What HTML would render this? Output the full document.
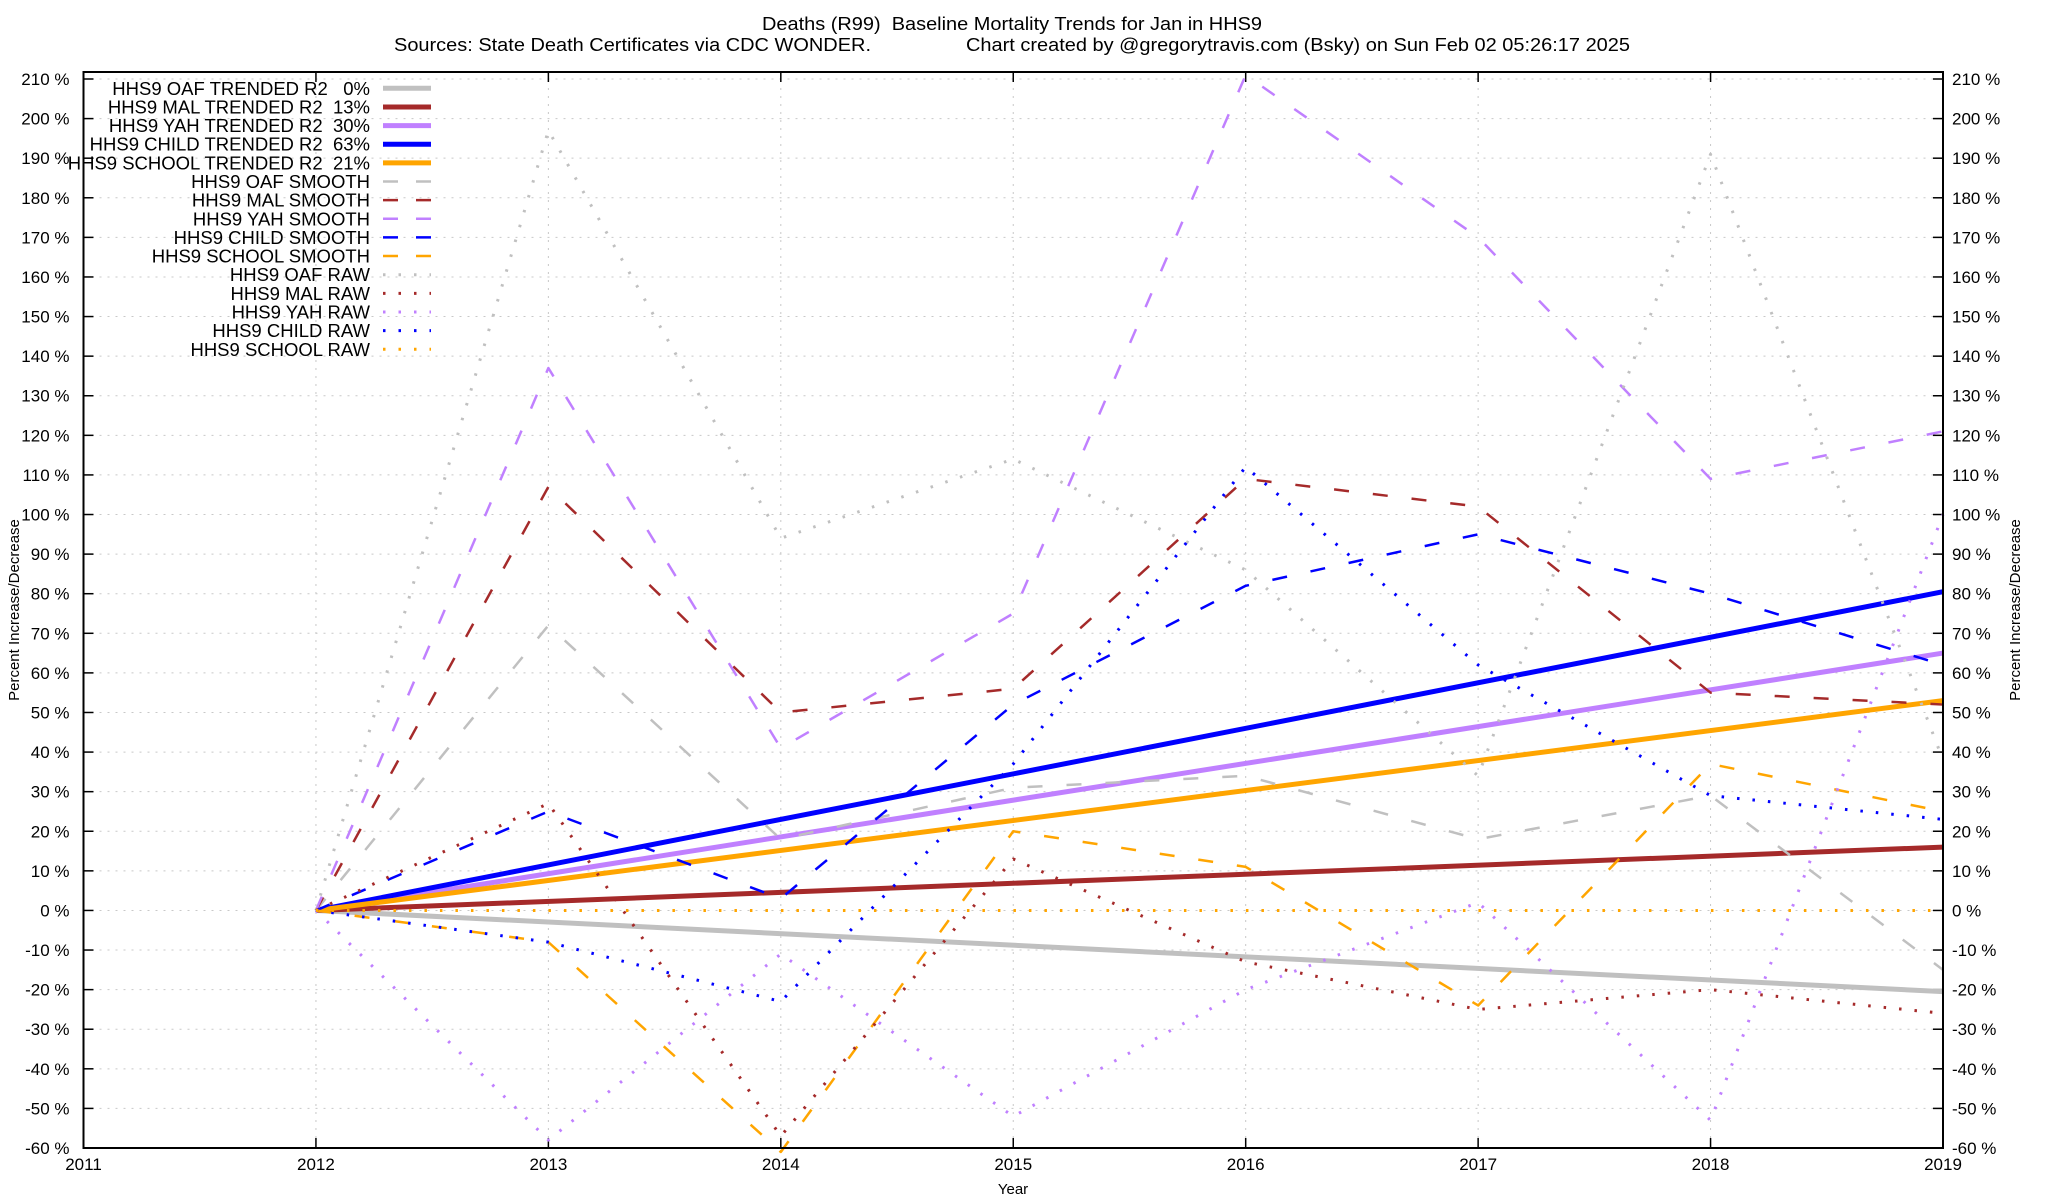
<!DOCTYPE html>
<html><head><meta charset="utf-8"><style>
html,body{margin:0;padding:0;background:#fff;}
svg{display:block;font-family:"Liberation Sans",Arial,sans-serif;}
</style></head><body>
<svg id="chart" width="2048" height="1200" viewBox="0 0 2048 1200"></svg>
<script>
const years = [2012,2013,2014,2015,2016,2017,2018,2019];
const oafTrend = [0,-20.5];
const malTrend = [0,16];
const yahTrend = [0,65];
const childTrend = [0,80.5];
const schoolTrend = [0,53];
const oafSmooth = [0,72,18,31,34,18,29,-15];
const malSmooth = [0,107,50,56,109,102,55,52];
const yahSmooth = [0,137,41,75,211,170,109,121];
const childSmooth = [0,25,3,52,82,95,80,62];
const schoolSmooth = [0,-8,-61,20,11,-24,37,25];
const oafRaw = [0,197,94,114,86,34,191,38];
const malRaw = [0,27,-57,13,-13,-25,-20,-26];
const yahRaw = [0,-58,-11,-52,-20,2,-53,100];
const childRaw = [0,-8,-23,37,112,62,29,23];
const schoolRaw = [0,0,0,0,0,0,0,0];
const yTicks = [210,200,190,180,170,160,150,140,130,120,110,100,90,80,70,60,50,40,30,20,10,0,-10,-20,-30,-40,-50,-60];
const xTicks = [2011,2012,2013,2014,2015,2016,2017,2018,2019];

const NS="http://www.w3.org/2000/svg";
const svg=document.getElementById('chart');
const L=83.5,R=1943,T=72,B=1148;
function xs(yr){return L+(yr-2011)*(R-L)/8;}
function ys(v){return 79+(210-v)*(1148-79)/270;}
function mk(tag,attrs,parent){const e=document.createElementNS(NS,tag);for(const k in attrs)e.setAttribute(k,attrs[k]);(parent||svg).appendChild(e);return e;}

const grid=mk('g',{});


yTicks.forEach(v=>{
  const y=ys(v);
  mk('line',{x1:L,x2:R,y1:y,y2:y,stroke:'#c8c8c8','stroke-width':1,'stroke-dasharray':'2,6'},grid);
  mk('line',{x1:L,x2:L+10,y1:y,y2:y,stroke:'#000','stroke-width':1.5},grid);
  mk('line',{x1:R-10,x2:R,y1:y,y2:y,stroke:'#000','stroke-width':1.5},grid);
  const t1=mk('text',{x:L-14,y:y+6,'text-anchor':'end','font-size':17},svg);
  t1.textContent=v+' %';
  
  
  const t2=mk('text',{x:R+9,y:y+6,'text-anchor':'start','font-size':17},svg);
  t2.textContent=v+' %';
  
  
});
xTicks.forEach(yr=>{
  const x=xs(yr);
  if(yr>2011&&yr<2019) mk('line',{x1:x,x2:x,y1:T,y2:B,stroke:'#c8c8c8','stroke-width':1,'stroke-dasharray':'2,6'},grid);
  mk('line',{x1:x,x2:x,y1:B,y2:B-10,stroke:'#000','stroke-width':1.5},grid);
  mk('line',{x1:x,x2:x,y1:T,y2:T+10,stroke:'#000','stroke-width':1.5},grid);
  const t=mk('text',{x:x,y:B+22,'text-anchor':'middle','font-size':17},svg);
  t.textContent=yr;
  
  
});

const gray='#c0c0c0',mal='#a52a2a',yah='#c080ff',child='#0000ff',school='#ffa500';
const series=[
 {n:'oaf-trend',c:gray,d:oafTrend,k:'t'},
 {n:'mal-trend',c:mal,d:malTrend,k:'t'},
 {n:'yah-trend',c:yah,d:yahTrend,k:'t'},
 {n:'child-trend',c:child,d:childTrend,k:'t'},
 {n:'school-trend',c:school,d:schoolTrend,k:'t'},
 {n:'oaf-smooth',c:gray,d:oafSmooth,k:'s'},
 {n:'mal-smooth',c:mal,d:malSmooth,k:'s'},
 {n:'yah-smooth',c:yah,d:yahSmooth,k:'s'},
 {n:'child-smooth',c:child,d:childSmooth,k:'s'},
 {n:'school-smooth',c:school,d:schoolSmooth,k:'s'},
 {n:'oaf-raw',c:gray,d:oafRaw,k:'r'},
 {n:'mal-raw',c:mal,d:malRaw,k:'r'},
 {n:'yah-raw',c:yah,d:yahRaw,k:'r'},
 {n:'child-raw',c:child,d:childRaw,k:'r'},
 {n:'school-raw',c:school,d:schoolRaw,k:'r'}
];
function style(k){
  if(k==='t') return {'stroke-width':5,'stroke-dasharray':''};
  if(k==='s') return {'stroke-width':2.5,'stroke-dasharray':'15,24'};
  return {'stroke-width':3,'stroke-dasharray':'2.5,13','stroke-linecap':'butt'};
}
series.forEach(s=>{
  let pts;
  if(s.k==='t') pts=[[xs(2012),ys(s.d[0])],[xs(2019),ys(s.d[1])]];
  else pts=s.d.map((v,i)=>[xs(years[i]),ys(v)]);
  const st=style(s.k);
  const p=mk('polyline',Object.assign({points:pts.map(p=>p.join(',')).join(' '),fill:'none',stroke:s.c,'stroke-linejoin':'round'},st));
  
  
});

const border=mk('rect',{x:L,y:T,width:R-L,height:B-T,fill:'none',stroke:'#000','stroke-width':2});



const labels=['HHS9 OAF TRENDED R2   0%','HHS9 MAL TRENDED R2  13%','HHS9 YAH TRENDED R2  30%','HHS9 CHILD TRENDED R2  63%','HHS9 SCHOOL TRENDED R2  21%','HHS9 OAF SMOOTH','HHS9 MAL SMOOTH','HHS9 YAH SMOOTH','HHS9 CHILD SMOOTH','HHS9 SCHOOL SMOOTH','HHS9 OAF RAW','HHS9 MAL RAW','HHS9 YAH RAW','HHS9 CHILD RAW','HHS9 SCHOOL RAW'];
const leg=mk('g',{});


labels.forEach((lab,i)=>{
  const y=88.3+i*18.64;
  const t=mk('text',{x:370,y:y+6.5,'text-anchor':'end','font-size':18.5},leg);
  t.style.whiteSpace='pre';
  t.textContent=lab;
  
  
  const s=series[i];const st=style(s.k);
  const l=mk('line',Object.assign({x1:383,x2:431,y1:y,y2:y,stroke:s.c},st),leg);
  if(s.k==='s') l.setAttribute('stroke-dasharray','15,18');
  if(s.k==='r') l.setAttribute('stroke-dasharray','2.5,13');
  
  
});

const t1=mk('text',{x:1012,y:30,'text-anchor':'middle','font-size':18,textLength:500,lengthAdjust:'spacingAndGlyphs'});
t1.style.whiteSpace='pre';
t1.textContent='Deaths (R99)  Baseline Mortality Trends for Jan in HHS9';


const t2=mk('text',{x:394,y:51,'text-anchor':'start','font-size':18});


const a=mk('tspan',{x:394},t2);a.textContent='Sources: State Death Certificates via CDC WONDER.';
a.setAttribute('textLength',477);a.setAttribute('lengthAdjust','spacingAndGlyphs');
const b=mk('tspan',{x:966},t2);b.textContent='Chart created by @gregorytravis.com (Bsky) on Sun Feb 02 05:26:17 2025';
b.setAttribute('textLength',664);b.setAttribute('lengthAdjust','spacingAndGlyphs');

const yl=mk('text',{x:0,y:0,'text-anchor':'middle','font-size':15,transform:'translate(19,610) rotate(-90)'});
yl.textContent='Percent Increase/Decrease';


const yr=mk('text',{x:0,y:0,'text-anchor':'middle','font-size':15,transform:'translate(2020,610) rotate(-90)'});
yr.textContent='Percent Increase/Decrease';


const xl=mk('text',{x:1013,y:1194,'text-anchor':'middle','font-size':15});
xl.textContent='Year';


</script>
</body></html>
